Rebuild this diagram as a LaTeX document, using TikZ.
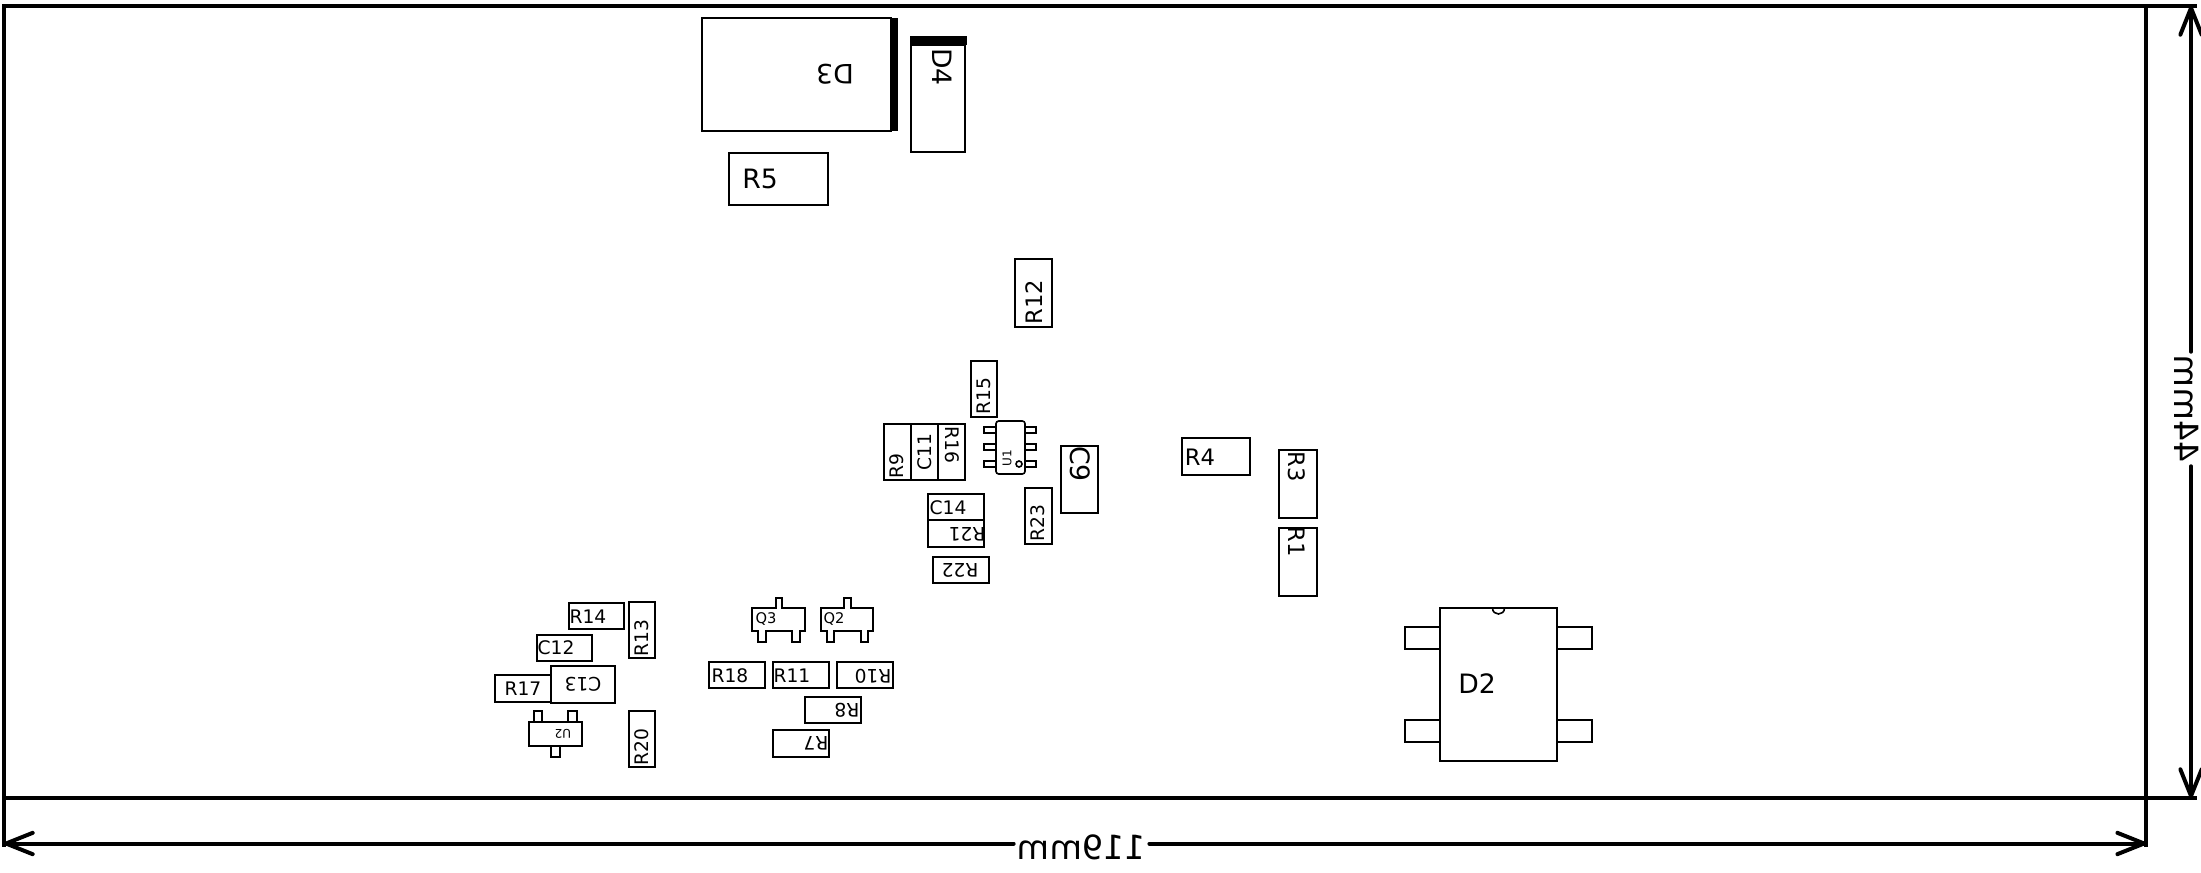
\documentclass[tikz,border=0pt]{standalone}
\usepackage{fontspec}
\setmainfont{DejaVu Sans}
\usetikzlibrary{arrows.meta}

\begin{document}
\begin{tikzpicture}[x=0.75pt,y=0.75pt,yscale=-1,xscale=1,
  board/.style={line width=3pt},
  outline/.style={line width=1.2pt},
  fat/.style={fill=black,draw=none},
  dimarrow/.style={line width=3pt,line cap=round,-{Straight Barb[length=20pt,width=16pt,round]}},
  dimtxt/.style={inner sep=2.5pt,font=\fontsize{25}{25}\selectfont},
  hugetxt/.style={inner sep=0pt,font=\fontsize{20}{20}\selectfont},
  bigtxt/.style={inner sep=0pt,font=\fontsize{17}{17}\selectfont},
  midtxt/.style={inner sep=0pt,font=\fontsize{14}{14}\selectfont},
  sottxt/.style={inner sep=0pt,font=\fontsize{11}{11}\selectfont},
  tinytxt/.style={inner sep=0pt,font=\fontsize{9}{9}\selectfont}]
\useasboundingbox (0,0) rectangle (2201,873);

%Shape: Board
\draw [board] (4,6) rectangle (2146,798) ;
%Straight Lines: extension lines
\draw [board] (2146,6) -- (2197,6) ;
\draw [board] (2146,798) -- (2197,798) ;
\draw [board] (4,798) -- (4,847) ;
\draw [board] (2146,798) -- (2146,847) ;

%Shape: D3
\draw [outline] (702,18) rectangle (891,131) ;
\draw [fat] (891,18) rectangle (898,131) ;
%Shape: D4
\draw [outline] (911,45) rectangle (965,152) ;
\draw [fat] (910,36) rectangle (967,45) ;
%Shape: R5
\draw [outline] (729,153) rectangle (828,205) ;
%Shape: R12
\draw [outline] (1015,259) rectangle (1052,327) ;
%Shape: R15
\draw [outline] (971,361) rectangle (997,417) ;
%Shape: R9
\draw [outline] (884,424) rectangle (911,480) ;
%Shape: C11
\draw [outline] (911,424) rectangle (938,480) ;
%Shape: R16
\draw [outline] (938,424) rectangle (965,480) ;
%Shape: U1
\draw [outline,rounded corners=2pt] (996,421) rectangle (1025,474) ;
\draw [outline] (984,427) rectangle (996,433) ;
\draw [outline] (984,444) rectangle (996,450) ;
\draw [outline] (984,461) rectangle (996,467) ;
\draw [outline] (1025,427) rectangle (1036,433) ;
\draw [outline] (1025,444) rectangle (1036,450) ;
\draw [outline] (1025,461) rectangle (1036,467) ;
\draw [outline] (1019,464) circle (3) ;
%Shape: C9
\draw [outline] (1061,446) rectangle (1098,513) ;
%Shape: R23
\draw [outline] (1025,488) rectangle (1052,544) ;
%Shape: C14
\draw [outline] (928,494) rectangle (984,520) ;
%Shape: R21
\draw [outline] (928,520) rectangle (984,547) ;
%Shape: R22
\draw [outline] (933,557) rectangle (989,583) ;
%Shape: R4
\draw [outline] (1182,438) rectangle (1250,475) ;
%Shape: R3
\draw [outline] (1279,450) rectangle (1317,518) ;
%Shape: R1
\draw [outline] (1279,528) rectangle (1317,596) ;
%Shape: D2
\draw [outline] (1440,608) rectangle (1557,761) ;
\draw [outline] (1492.5,608) .. controls (1492.5,616) and (1504.5,616) .. (1504.5,608) ;
\draw [outline] (1405,627) rectangle (1440,649) ;
\draw [outline] (1405,720) rectangle (1440,742) ;
\draw [outline] (1557,627) rectangle (1592,649) ;
\draw [outline] (1557,720) rectangle (1592,742) ;
%Shape: Q3
\draw [outline] (752,608) -- (776,608) -- (776,598) -- (782,598) -- (782,608) -- (805,608) -- (805,631) -- (800,631) -- (800,642) -- (792,642) -- (792,631) -- (766,631) -- (766,642) -- (758,642) -- (758,631) -- (752,631) -- cycle ;
%Shape: Q2
\draw [outline] (821,608) -- (844,608) -- (844,598) -- (851,598) -- (851,608) -- (873,608) -- (873,631) -- (868,631) -- (868,642) -- (861,642) -- (861,631) -- (834,631) -- (834,642) -- (827,642) -- (827,631) -- (821,631) -- cycle ;
%Shape: R18
\draw [outline] (709,662) rectangle (765,688) ;
%Shape: R11
\draw [outline] (773,662) rectangle (829,688) ;
%Shape: R10
\draw [outline] (837,662) rectangle (893,688) ;
%Shape: R8
\draw [outline] (805,697) rectangle (861,723) ;
%Shape: R7
\draw [outline] (773,730) rectangle (829,757) ;
%Shape: R14
\draw [outline] (569,603) rectangle (624,629) ;
%Shape: R13
\draw [outline] (629,602) rectangle (655,658) ;
%Shape: C12
\draw [outline] (537,635) rectangle (592,661) ;
%Shape: C13
\draw [outline] (551,666) rectangle (615,703) ;
%Shape: R17
\draw [outline] (495,675) rectangle (551,702) ;
%Shape: U2
\draw [outline] (529,722) rectangle (582,746) ;
\draw [outline] (534,711) rectangle (542,722) ;
\draw [outline] (568,711) rectangle (577,722) ;
\draw [outline] (551,746) rectangle (560,757) ;
%Shape: R20
\draw [outline] (629,711) rectangle (655,767) ;

% Text Node
\draw (835,74) node (txtDiii) [hugetxt,rotate=180] {D3};
% Text Node
\draw (942,67) node (txtDiv) [hugetxt,rotate=-90] {D4};
% Text Node
\draw (760,179) node (txtRv) [hugetxt] {R5};
% Text Node
\draw (1034,302) node (txtRxii) [bigtxt,rotate=90] {R12};
% Text Node
\draw (984,396) node (txtRxv) [midtxt,rotate=90] {R15};
% Text Node
\draw (897,466) node (txtRix) [midtxt,rotate=90] {R9};
% Text Node
\draw (925,452) node (txtCxi) [midtxt,rotate=90] {C11};
% Text Node
\draw (952,445) node (txtRxvi) [midtxt,rotate=-90] {R16};
% Text Node
\draw (1007,458) node (txtUi) [tinytxt,rotate=90] {U1};
% Text Node
\draw (1080,464) node (txtCix) [hugetxt,rotate=-90] {C9};
% Text Node
\draw (1038,523) node (txtRxxiii) [midtxt,rotate=90] {R23};
% Text Node
\draw (948,508) node (txtCxiv) [midtxt] {C14};
% Text Node
\draw (967,534) node (txtRxxi) [midtxt,rotate=180] {R21};
% Text Node
\draw (960,570) node (txtRxxii) [midtxt,rotate=180] {R22};
% Text Node
\draw (1200,457) node (txtRiv) [bigtxt] {R4};
% Text Node
\draw (1297,467) node (txtRiii) [bigtxt,rotate=-90] {R3};
% Text Node
\draw (1297,542) node (txtRi) [bigtxt,rotate=-90] {R1};
% Text Node
\draw (1477,684) node (txtDii) [hugetxt] {D2};
% Text Node
\draw (766,619) node (txtQiii) [sottxt] {Q3};
% Text Node
\draw (834,619) node (txtQii) [sottxt] {Q2};
% Text Node
\draw (730,676) node (txtRxviii) [midtxt] {R18};
% Text Node
\draw (792,676) node (txtRxi) [midtxt] {R11};
% Text Node
\draw (873,676) node (txtRx) [midtxt,rotate=180] {R10};
% Text Node
\draw (847,710) node (txtRviii) [midtxt,rotate=180] {R8};
% Text Node
\draw (816,743) node (txtRvii) [midtxt,rotate=180] {R7};
% Text Node
\draw (588,617) node (txtRxiv) [midtxt] {R14};
% Text Node
\draw (642,638) node (txtRxiii) [midtxt,rotate=90] {R13};
% Text Node
\draw (556,648) node (txtCxii) [midtxt] {C12};
% Text Node
\draw (583,684) node (txtCxiii) [midtxt,rotate=180] {C13};
% Text Node
\draw (523,689) node (txtRxvii) [midtxt] {R17};
% Text Node
\draw (563,734) node (txtUii) [tinytxt,rotate=180] {U2};
% Text Node
\draw (642,747) node (txtRxx) [midtxt,rotate=90] {R20};
% Text Node
\draw (1081.5,847) node (dimWidth) [dimtxt,xscale=-1] {119mm};
% Text Node
\draw (2187,409) node (dimHeight) [dimtxt,rotate=-90,xscale=-1] {44mm};

% Dimension ends
\coordinate (widthL) at (4,843.5);
\coordinate (widthR) at (2146,843.5);
\coordinate (heightT) at (2191,6);
\coordinate (heightB) at (2191,798);
%Straight Lines
\draw [dimarrow] (widthL -| dimWidth.east) -- (widthL) ;
\draw [dimarrow] (widthR -| dimWidth.west) -- (widthR) ;
\draw [dimarrow] (heightT |- dimHeight.east) -- (heightT) ;
\draw [dimarrow] (heightB |- dimHeight.west) -- (heightB) ;

\end{tikzpicture}
\end{document}
